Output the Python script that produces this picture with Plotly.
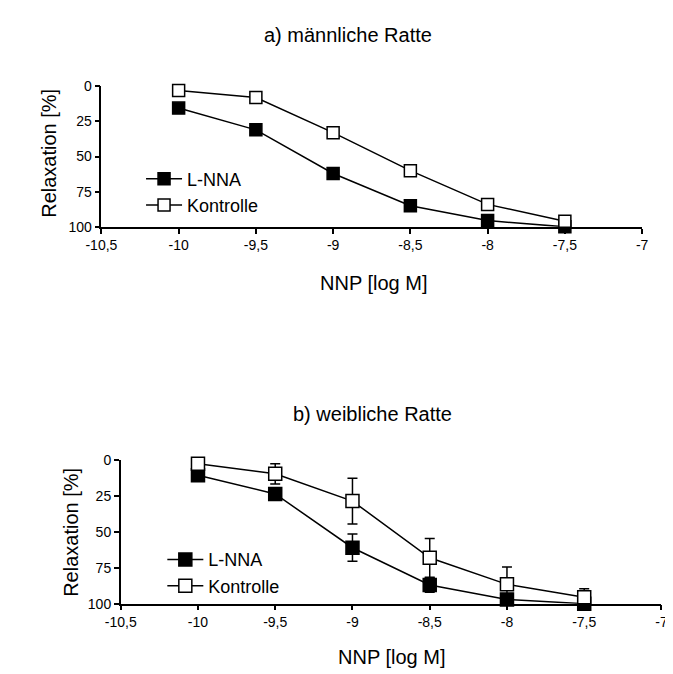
import plotly.graph_objects as go

# ---- data ----
conc = [-10, -9.5, -9, -8.5, -8, -7.5]

male_lnna = [15.5, 31, 62, 85, 95.5, 100]
male_kontrolle = [3, 8, 33, 60, 84, 96]

female_lnna = [10.5, 23.5, 61, 87, 97, 100]
female_lnna_err = [0, 0, 9.5, 5, 0, 0]
female_kontrolle = [2.5, 9.5, 28.5, 68, 86.5, 95.5]
female_kontrolle_err = [0, 7, 16, 13.5, 12, 6]

x_tickvals = [-10.5, -10, -9.5, -9, -8.5, -8, -7.5, -7]
x_ticktext = ["-10,5", "-10", "-9,5", "-9", "-8,5", "-8", "-7,5", "-7"]
y_tickvals = [0, 25, 50, 75, 100]
y_ticktext = ["0", "25", "50", "75", "100"]

FONT = "Liberation Sans, Arial, sans-serif"
W, H = 673, 674

def px(xp):
    return xp / W

def py(yp):
    return 1 - yp / H

fig = go.Figure()

def add_series(xa, ya, y, name, filled, legend, size, err=None):
    kw = {}
    if err is not None:
        kw["error_y"] = dict(type="data", array=err, visible=True, color="black",
                             thickness=1.5, width=5)
    fig.add_trace(go.Scatter(
        x=conc, y=y, name=name, mode="lines+markers",
        xaxis=xa, yaxis=ya, legend=legend, cliponaxis=False,
        line=dict(color="black", width=1.5),
        marker=dict(symbol="square", size=size,
                    color="black" if filled else "white",
                    line=dict(color="black", width=1.5)),
        **kw))

add_series("x", "y", male_lnna, "L-NNA", True, "legend", 12)
add_series("x", "y", male_kontrolle, "Kontrolle", False, "legend", 12)
add_series("x2", "y2", female_lnna, "L-NNA", True, "legend2", 13, female_lnna_err)
add_series("x2", "y2", female_kontrolle, "Kontrolle", False, "legend2", 13, female_kontrolle_err)

xaxis_common = dict(range=[-10.5, -7], tickvals=x_tickvals, ticktext=x_ticktext,
                    showline=True, linecolor="black", linewidth=1.5,
                    ticks="outside", ticklen=5, tickwidth=1.5, tickcolor="black",
                    showgrid=False, zeroline=False,
                    tickfont=dict(family=FONT, size=14, color="black"))
yaxis_common = dict(range=[100, 0], tickvals=y_tickvals, ticktext=y_ticktext,
                    showline=True, linecolor="black", linewidth=1.5,
                    ticks="outside", ticklen=5, tickwidth=1.5, tickcolor="black",
                    showgrid=False, zeroline=False,
                    tickfont=dict(family=FONT, size=14, color="black"))

legend_common = dict(font=dict(family=FONT, size=18, color="black"),
                     bgcolor="rgba(0,0,0,0)", xanchor="left", yanchor="top",
                     tracegroupgap=0, itemwidth=36)

fig.update_layout(
    width=W, height=H,
    margin=dict(l=0, r=0, t=0, b=0),
    paper_bgcolor="white", plot_bgcolor="white",
    font=dict(family=FONT, color="black"),
    xaxis=dict(domain=[px(80), px(639)], anchor="y", **xaxis_common),
    yaxis=dict(domain=[py(216), py(72)], anchor="x", **yaxis_common),
    xaxis2=dict(domain=[px(100), px(659)], anchor="y2", **xaxis_common),
    yaxis2=dict(domain=[py(602), py(455)], anchor="x2", **yaxis_common),
    legend=dict(x=px(121), y=py(148), **legend_common),
    legend2=dict(x=px(143), y=py(538), **legend_common),
    showlegend=True,
)

ann_font = dict(family=FONT, size=20, color="black")
annotations = [
    dict(text="a) männliche Ratte", x=px(335), y=py(19)),
    dict(text="b) weibliche Ratte", x=px(360), y=py(408)),
    dict(text="NNP [log M]", x=px(361), y=py(273)),
    dict(text="NNP [log M]", x=px(380), y=py(657)),
    dict(text="Relaxation [%]", x=px(26), y=py(141), textangle=-90),
    dict(text="Relaxation [%]", x=px(49), y=py(529), textangle=-90),
]
for a in annotations:
    a.update(xref="paper", yref="paper", showarrow=False,
             xanchor="center", yanchor="middle", font=ann_font)
fig.update_layout(annotations=annotations)

fig.write_html("out.html")
